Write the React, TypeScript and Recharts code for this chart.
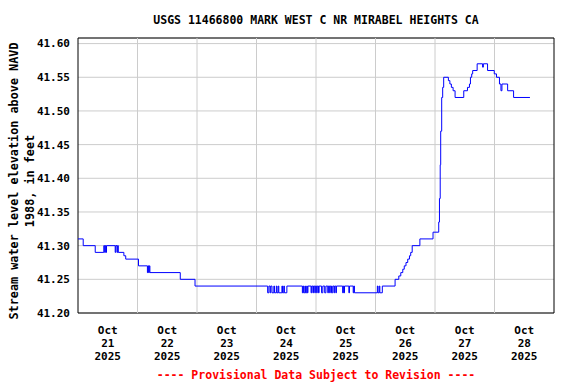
import React from 'react';
import { LineChart, Line, XAxis, YAxis, CartesianGrid, ReferenceLine, ReferenceArea } from 'recharts';

// hours since Oct 21 2025 00:00, and gage height value (step changes)
const hours = [
  0, 2.1, 6.95, 10.4, 10.75, 11.0, 11.25, 11.5, 15.0, 15.25, 15.75, 16.0, 16.25, 18.5, 19.25,
  24.4, 28.0, 28.25, 28.5, 28.75, 29.0, 41.25, 47.2,
  76.5, 77.0, 77.5, 77.75, 78.25, 79.0, 79.25, 80.0, 80.25, 80.75, 81.0, 82.25, 82.5, 83.0, 83.25, 84.25,
  90.5, 90.75, 91.0, 91.5, 91.75, 92.25, 92.5, 92.75, 94.0, 94.25, 94.75, 95.0, 95.5, 95.75, 96.25, 96.5,
  97.0, 97.25, 98.25, 98.75, 99.5, 100.0, 100.75, 101.0, 101.5, 101.75, 102.25, 102.75, 103.25, 103.5,
  104.0, 104.25, 106.75, 107.0, 107.25, 107.5, 109.25, 109.5, 111.0, 111.25, 111.5,
  120.75, 121.0, 121.5, 121.75, 122.75,
  127.9, 129.4, 130.2, 131.0, 131.6, 132.3, 133.0, 133.7, 134.2, 134.8, 137.9, 143.2,
  145.5, 145.8, 146.1, 146.3, 146.7, 147.1, 147.5, 149.4, 150.0, 150.6, 151.3, 152.1,
  155.6, 157.1, 157.9, 158.3, 158.8, 159.2, 161.0, 163.2, 163.5, 165.2, 167.9, 168.8,
  170.0, 170.6, 171.0, 173.3, 175.7, 182.3,
];
const levels = [
  41.31, 41.30, 41.29, 41.30, 41.29, 41.30, 41.29, 41.30, 41.29, 41.30, 41.29, 41.30, 41.29, 41.285, 41.28,
  41.27, 41.26, 41.27, 41.26, 41.27, 41.26, 41.25, 41.24,
  41.23, 41.24, 41.23, 41.24, 41.23, 41.24, 41.23, 41.24, 41.23, 41.24, 41.23, 41.24, 41.23, 41.24, 41.23, 41.24,
  41.23, 41.24, 41.23, 41.24, 41.23, 41.24, 41.23, 41.24, 41.23, 41.24, 41.23, 41.24, 41.23, 41.24, 41.23, 41.24,
  41.23, 41.24, 41.23, 41.24, 41.23, 41.24, 41.23, 41.24, 41.23, 41.24, 41.23, 41.24, 41.23, 41.24,
  41.23, 41.24, 41.23, 41.24, 41.23, 41.24, 41.23, 41.24, 41.23, 41.24, 41.23,
  41.24, 41.23, 41.24, 41.23, 41.24,
  41.25, 41.255, 41.26, 41.265, 41.27, 41.275, 41.28, 41.285, 41.29, 41.30, 41.31, 41.32,
  41.335, 41.37, 41.42, 41.47, 41.52, 41.535, 41.55, 41.545, 41.54, 41.535, 41.53, 41.52,
  41.53, 41.535, 41.54, 41.55, 41.555, 41.56, 41.57, 41.565, 41.57, 41.56, 41.555, 41.55,
  41.54, 41.53, 41.54, 41.53, 41.52, 41.52,
];

const dayGridHours = [24, 48, 72, 96, 120, 144, 168];
const tickHours = [12, 36, 60, 84, 108, 132, 156, 180];
const tickMonths = ['Oct', 'Oct', 'Oct', 'Oct', 'Oct', 'Oct', 'Oct', 'Oct'];
const tickDays = ['21', '22', '23', '24', '25', '26', '27', '28'];
const tickYears = ['2025', '2025', '2025', '2025', '2025', '2025', '2025', '2025'];
const yTicks = [41.2, 41.25, 41.3, 41.35, 41.4, 41.45, 41.5, 41.55, 41.6];

const titleText = 'USGS 11466800 MARK WEST C NR MIRABEL HEIGHTS CA';
const yLabel1 = 'Stream water level elevation above NAVD';
const yLabel2 = '1988, in feet';
const footerText = '---- Provisional Data Subject to Revision ----';

const data = hours.map((h, i) => ({ h, v: levels[i] }));

const FONT = '"DejaVu Sans Mono", monospace';

const XTick = (props: any) => {
  const { x, y, payload } = props;
  const i = tickHours.indexOf(payload.value);
  if (i < 0) return null;
  return (
    <text x={x} y={y} textAnchor="middle" fontFamily={FONT} fontWeight="bold" fontSize={11} fill="#000">
      <tspan x={x} dy={21}>{tickMonths[i]}</tspan>
      <tspan x={x} dy={13}>{tickDays[i]}</tspan>
      <tspan x={x} dy={13}>{tickYears[i]}</tspan>
    </text>
  );
};

export default function App() {
  return (
    <div style={{ position: 'absolute', left: 0, top: 0, width: 576, height: 384, background: '#fff' }}>
      <LineChart width={576} height={384} data={data} margin={{ top: 38, right: 22, bottom: 21, left: 8 }}>
        <CartesianGrid vertical={false} stroke="#cccccc" strokeWidth={1} />
        {dayGridHours.map((h) => (
          <ReferenceLine key={h} x={h} stroke="#cccccc" strokeWidth={1} />
        ))}
        <XAxis
          type="number"
          dataKey="h"
          domain={[0, 192]}
          ticks={tickHours}
          interval={0}
          height={50}
          tickSize={0}
          tickMargin={0}
          axisLine={false}
          tickLine={false}
          tick={<XTick />}
          allowDataOverflow
        />
        <YAxis
          type="number"
          domain={[41.2, 41.6083]}
          ticks={yTicks}
          interval={0}
          width={70}
          tickSize={0}
          tickMargin={8}
          axisLine={false}
          tickLine={false}
          allowDataOverflow
          tickFormatter={(v: number) => v.toFixed(2)}
          tick={{ fontFamily: FONT, fontWeight: 'bold', fontSize: 11, fill: '#000' }}
        />
        <Line
          type="stepAfter"
          dataKey="v"
          stroke="#0000ff"
          strokeWidth={1}
          dot={false}
          isAnimationActive={false}
        />
        <ReferenceArea x1={0} x2={192} y1={41.2} y2={41.6083} fill="none" stroke="#000" strokeWidth={1} />
      </LineChart>
      <svg width={576} height={384} style={{ position: 'absolute', left: 0, top: 0, pointerEvents: 'none' }}>
        <text x={316} y={24} textAnchor="middle" fontFamily={FONT} fontWeight="bold" fontSize={11.5} fill="#000">
          {titleText}
        </text>
        <text transform="translate(18,181) rotate(-90)" textAnchor="middle" fontFamily={FONT} fontWeight="bold" fontSize={11.8} fill="#000">
          {yLabel1}
        </text>
        <text transform="translate(34,181) rotate(-90)" textAnchor="middle" fontFamily={FONT} fontWeight="bold" fontSize={11.8} fill="#000">
          {yLabel2}
        </text>
        <text x={316} y={379} textAnchor="middle" fontFamily={FONT} fontWeight="bold" fontSize={11.5} fill="#ff0000">
          {footerText}
        </text>
      </svg>
    </div>
  );
}
